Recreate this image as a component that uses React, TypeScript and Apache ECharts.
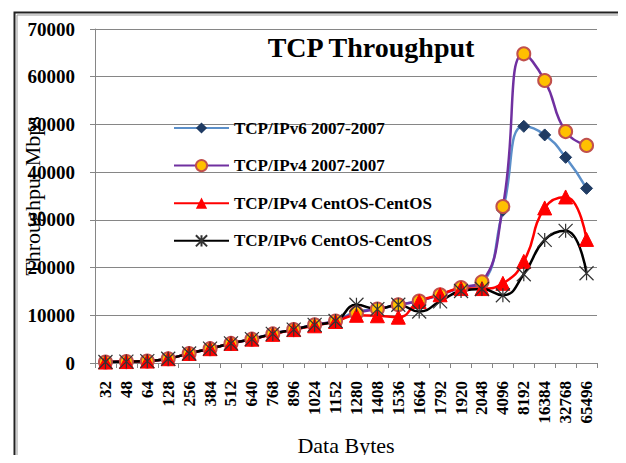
import React, { useEffect, useRef } from "react";
import * as echarts from "echarts";

const categories = ["32", "48", "64", "128", "256", "384", "512", "640", "768", "896", "1024", "1152", "1280", "1408", "1536", "1664", "1792", "1920", "2048", "4096", "8192", "16384", "32768", "65496"];

const ipv6_2007 = [200, 300, 400, 900, 2000, 3000, 4100, 5000, 6100, 7000, 8000, 8800, 10800, 11300, 12200, 13000, 14300, 15800, 16800, 32000, 49600, 47800, 43100, 36600];
const ipv4_2007 = [200, 300, 400, 900, 2000, 3000, 4100, 5000, 6100, 7000, 8000, 8800, 10500, 11300, 12200, 13000, 14300, 15800, 17000, 32800, 64800, 59200, 48500, 45600];
const ipv4_centos = [200, 300, 400, 900, 2000, 3000, 4100, 5000, 6000, 7000, 7800, 8700, 10000, 9900, 9600, 12900, 14300, 15600, 15600, 16700, 21300, 32500, 34800, 25900];
const ipv6_centos = [200, 300, 400, 900, 2000, 3000, 4100, 5000, 6100, 7000, 8000, 8800, 12200, 11300, 12200, 10800, 12900, 15100, 15500, 14200, 18600, 25800, 27700, 18800];

const seriesNames = ["TCP/IPv6 2007-2007", "TCP/IPv4 2007-2007", "TCP/IPv4 CentOS-CentOS", "TCP/IPv6 CentOS-CentOS"];

const FONT = "'Liberation Serif', 'Times New Roman', serif";
const ASTERISK = "path://M0,0 L10,10 M10,0 L0,10 M5,0 L5,10";

export default function App() {
  const ref = useRef<HTMLDivElement>(null);
  useEffect(() => {
    if (!ref.current) return;
    const chart = echarts.init(ref.current, undefined, { renderer: "svg" });
    chart.setOption({
      animation: false,
      backgroundColor: "#ffffff",
      title: {
        text: "TCP Throughput",
        left: 366,
        top: 28,
        textAlign: "center",
        textStyle: { fontFamily: FONT, fontSize: 28, fontWeight: "bold", color: "#000" },
      },
      legend: {
        orient: "vertical",
        left: 168,
        top: 114,
        itemWidth: 55,
        itemHeight: 14,
        itemGap: 19.6,
        data: seriesNames,
        textStyle: { fontFamily: FONT, fontSize: 17, fontWeight: "bold", color: "#000", lineHeight: 18 },
      },
      grid: { left: 95, right: 29, top: 29, bottom: 100, containLabel: false },
      xAxis: {
        type: "category",
        data: categories,
        boundaryGap: true,
        name: "Data Bytes",
        nameLocation: "middle",
        nameGap: 71,
        nameMoveOverlap: false,
        nameTextStyle: { fontFamily: FONT, fontSize: 22, color: "#000" },
        axisLine: { lineStyle: { color: "#868686", width: 1 } },
        axisTick: { show: true, alignWithLabel: false, length: 5, lineStyle: { color: "#868686" } },
        axisLabel: { rotate: 90, interval: 0, margin: 18, fontFamily: FONT, fontSize: 17, fontWeight: "bold", color: "#000" },
      },
      yAxis: {
        type: "value",
        min: 0,
        max: 70000,
        interval: 10000,
        name: "Throughput Mbps",
        nameLocation: "middle",
        nameGap: 52,
        nameMoveOverlap: false,
        nameTextStyle: { fontFamily: FONT, fontSize: 22, color: "#000" },
        axisLine: { show: true, lineStyle: { color: "#868686", width: 1 } },
        axisTick: { show: true, length: 5, lineStyle: { color: "#868686" } },
        splitLine: { show: true, lineStyle: { color: "#868686", width: 1 } },
        axisLabel: { margin: 20, fontFamily: FONT, fontSize: 19, fontWeight: "bold", color: "#000", formatter: (v: number) => String(v) },
      },
      graphic: [
        { type: "rect", left: 12, top: 10, shape: { x: 0, y: 0, width: 611, height: 470 }, style: { fill: "none", stroke: "#222", lineWidth: 2 }, silent: true },
        { type: "rect", left: 14.5, top: 12.5, shape: { x: 0, y: 0, width: 606, height: 465 }, style: { fill: "none", stroke: "#999", lineWidth: 1 }, silent: true },
      ],
      series: [
        {
          name: seriesNames[0],
          type: "line",
          data: ipv6_2007,
          smooth: 0.5,
          symbol: "diamond",
          symbolSize: 12,
          lineStyle: { color: "#5b8fc9", width: 2.5 },
          itemStyle: { color: "#1f3b63", borderColor: "#1f3b63" },
        },
        {
          name: seriesNames[1],
          type: "line",
          data: ipv4_2007,
          smooth: 0.5,
          symbol: "circle",
          symbolSize: 13,
          lineStyle: { color: "#7030a0", width: 2.5 },
          itemStyle: { color: "#ffc000", borderColor: "#c0504d", borderWidth: 2 },
        },
        {
          name: seriesNames[2],
          type: "line",
          data: ipv4_centos,
          smooth: 0.5,
          symbol: "triangle",
          symbolSize: 14,
          lineStyle: { color: "#ff0000", width: 2.5 },
          itemStyle: { color: "#ff0000", borderColor: "#ff0000" },
        },
        {
          name: seriesNames[3],
          type: "line",
          data: ipv6_centos,
          smooth: 0.5,
          symbol: ASTERISK,
          symbolSize: 14,
          lineStyle: { color: "#000000", width: 2.5 },
          itemStyle: { color: "#000000", borderColor: "#333333", borderWidth: 1.2 },
        },
      ],
    });
    return () => chart.dispose();
  }, []);
  return <div ref={ref} style={{ width: 626, height: 463, margin: -8 }} />;
}
